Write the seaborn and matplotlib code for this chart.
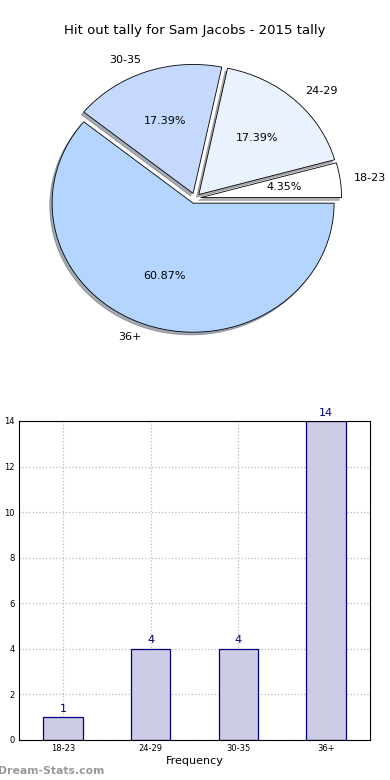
import matplotlib
matplotlib.use("Agg")
import matplotlib.pyplot as plt
import seaborn as sns
import pandas as pd

categories = ["18-23", "24-29", "30-35", "36+"]
counts = [1, 4, 4, 14]
pie_colors = ["#FFFFFF", "#EAF1FF", "#C5D9FF", "#B4D5FF"]
explode = [0.04, 0.04, 0.04, 0.04]
title = "Hit out tally for Sam Jacobs - 2015 tally"

sns.set_theme(style="white")
plt.rcParams['font.family'] = ['DejaVu Sans']
plt.rcParams['text.color'] = 'black'
plt.rcParams['axes.labelcolor'] = 'black'
plt.rcParams['xtick.color'] = 'black'
plt.rcParams['ytick.color'] = 'black'

fig = plt.figure(figsize=(3.9, 7.8), dpi=100)

# Pie chart (elliptical, like the reference)
ax1 = fig.add_axes([0.0481, 0.5390, 0.9038, 0.4135])
wedges, texts, autotexts = ax1.pie(
    counts, labels=categories, colors=pie_colors, explode=explode,
    autopct='%.2f%%', shadow={'ox': -0.012, 'oy': -0.015, 'shade': 0.6}, startangle=0,
    wedgeprops=dict(edgecolor='black', linewidth=0.6),
    textprops=dict(fontsize=8, color='black'))
ax1.set_aspect('auto')
ax1.set_xlim(-1.25, 1.25)
ax1.set_ylim(-1.25, 1.25)
ax1.axis('off')
fig.text(0.5, 0.961, title, ha='center', va='center', fontsize=9.5)

# Bar chart
ax2 = fig.add_axes([0.0487, 0.0513, 0.9, 0.409])
df = pd.DataFrame({"age": categories, "count": counts})
sns.barplot(data=df, x="age", y="count", color="#CCCCE6", saturation=1,
            edgecolor="#000080", linewidth=0.9, width=0.45, ax=ax2, zorder=2)
ax2.set_ylim(0, 14)
ax2.set_xlim(-0.5, 3.5)
ax2.set_yticks(range(0, 15, 2))
ax2.tick_params(axis='both', labelsize=6, length=2, direction='in', pad=3)
ax2.grid(True, linestyle=':', color='#bbbbbb', linewidth=0.9, zorder=0)
ax2.set_axisbelow(True)
for s in ax2.spines.values():
    s.set_color('black')
    s.set_linewidth(0.8)
ax2.set_xlabel("Frequency", fontsize=8, labelpad=2)
ax2.set_ylabel("Distribution", fontsize=7)
ax2.yaxis.set_label_coords(-0.05, 0.5)
for i, v in enumerate(counts):
    ax2.text(i, v + 0.15, str(v), ha='center', va='bottom', color='#000080', fontsize=8)

fig.text(-0.005, 0.012, "Dream-Stats.com", fontsize=7.8, color='#999999',
         fontweight='bold', ha='left', va='center')

fig.savefig("out.png", dpi=100)
